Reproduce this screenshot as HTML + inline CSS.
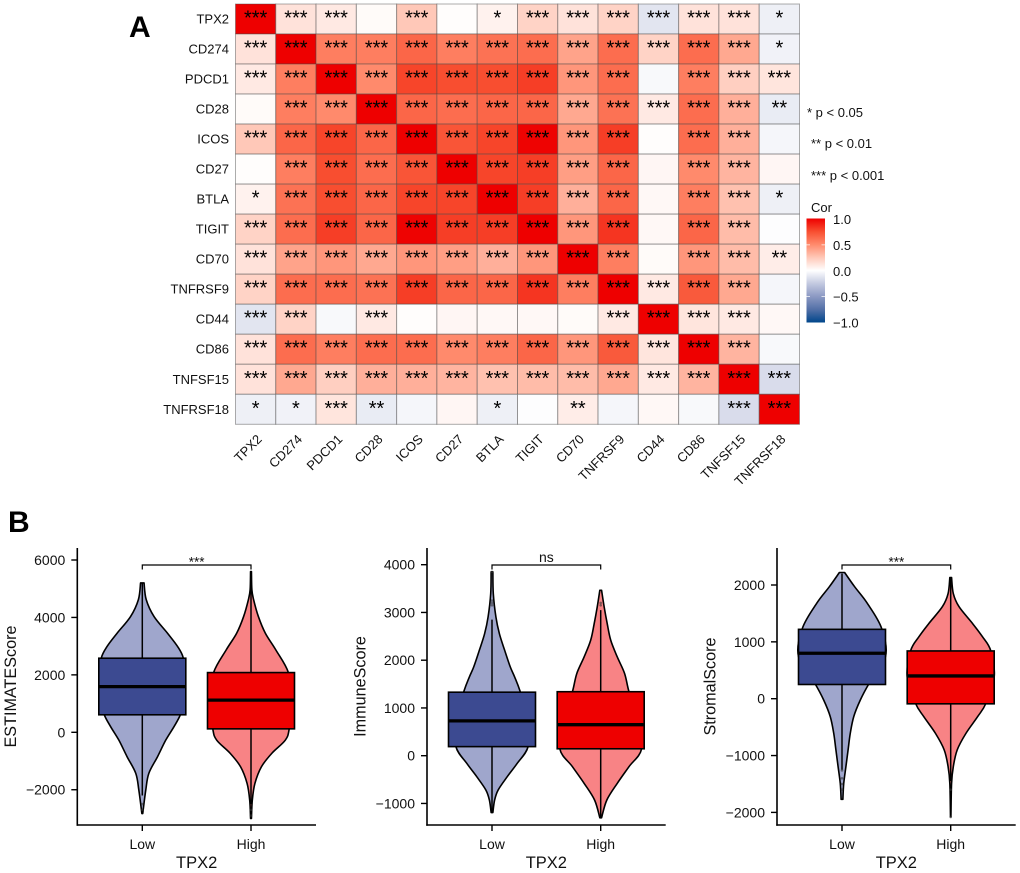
<!DOCTYPE html>
<html lang="en">
<head>
<meta charset="utf-8">
<title>TPX2 correlation heatmap and score violins</title>
<style>
html,body{margin:0;padding:0;background:#fff;}
svg{display:block;font-family:"Liberation Sans",Arial,sans-serif;filter:blur(0.35px);}
</style>
</head>
<body>
<svg id="figure" xmlns="http://www.w3.org/2000/svg" width="1020" height="873" viewBox="0 0 1020 873">
  <defs>
    <linearGradient id="cor-gradient" x1="0" y1="0" x2="0" y2="1">
      <stop offset="0" stop-color="#ee0000"/>
      <stop offset="0.125" stop-color="#f84e30"/>
      <stop offset="0.25" stop-color="#ff8a6c"/>
      <stop offset="0.375" stop-color="#ffc8b8"/>
      <stop offset="0.5" stop-color="#ffffff"/>
      <stop offset="0.625" stop-color="#c3c9e0"/>
      <stop offset="0.75" stop-color="#8c99c3"/>
      <stop offset="0.875" stop-color="#5370a7"/>
      <stop offset="1" stop-color="#00468b"/>
    </linearGradient>
  </defs>
  <rect width="1020" height="873" fill="#fff"/>
  <text x="129" y="37" font-size="30" font-weight="bold" fill="#000">A</text>
  <text x="8" y="532" font-size="30" font-weight="bold" fill="#000">B</text>
  <g id="heatmap"></g>
  <g font-size="13" fill="#111">
    <text x="807" y="117">* p &lt; 0.05</text>
    <text x="811" y="148">** p &lt; 0.01</text>
    <text x="811" y="180">*** p &lt; 0.001</text>
  </g>
  <g id="colorbar">
    <text x="811" y="212" font-size="13" fill="#111">Cor</text>
    <rect x="806.5" y="218.5" width="18.5" height="104" fill="url(#cor-gradient)"/>
  </g>
  <g id="violins"></g>
</svg>
<script>
// ---- Heatmap data ----
const genes = ["TPX2","CD274","PDCD1","CD28","ICOS","CD27","BTLA","TIGIT","CD70","TNFRSF9","CD44","CD86","TNFSF15","TNFRSF18"];
const corValues = [
  [1,.13,.1,.02,.25,.01,.06,.2,.13,.2,-.12,.13,.13,-.07],
  [.13,1,.55,.55,.65,.55,.6,.62,.4,.62,.2,.62,.38,-.06],
  [.1,.55,1,.5,.78,.75,.75,.8,.45,.62,-.03,.55,.22,.12],
  [.02,.55,.5,1,.65,.62,.65,.65,.38,.6,.1,.62,.35,-.09],
  [.25,.65,.78,.65,1,.72,.78,.99,.45,.8,.01,.62,.35,-.04],
  [.01,.55,.75,.62,.72,1,.78,.8,.42,.65,.04,.5,.33,.04],
  [.06,.6,.75,.65,.78,.78,1,.8,.35,.65,.03,.55,.28,-.07],
  [.2,.62,.8,.65,.99,.8,.8,1,.45,.83,.03,.65,.3,-.01],
  [.13,.4,.45,.38,.45,.42,.35,.45,1,.55,.02,.45,.3,.08],
  [.2,.62,.62,.6,.8,.65,.65,.83,.55,1,.1,.7,.38,-.04],
  [-.12,.2,-.03,.1,.01,.04,.03,.03,.02,.1,1,.12,.1,.03],
  [.13,.62,.55,.62,.62,.5,.55,.65,.45,.7,.12,1,.33,-.03],
  [.13,.38,.22,.35,.35,.33,.28,.3,.3,.38,.1,.33,1,-.16],
  [-.07,-.06,.12,-.09,-.04,.04,-.07,-.01,.08,-.04,.03,-.03,-.16,1]
];
const starCounts = [
  [3,3,3,0,3,0,1,3,3,3,3,3,3,1],
  [3,3,3,3,3,3,3,3,3,3,3,3,3,1],
  [3,3,3,3,3,3,3,3,3,3,0,3,3,3],
  [0,3,3,3,3,3,3,3,3,3,3,3,3,2],
  [3,3,3,3,3,3,3,3,3,3,0,3,3,0],
  [0,3,3,3,3,3,3,3,3,3,0,3,3,0],
  [1,3,3,3,3,3,3,3,3,3,0,3,3,1],
  [3,3,3,3,3,3,3,3,3,3,0,3,3,0],
  [3,3,3,3,3,3,3,3,3,3,0,3,3,2],
  [3,3,3,3,3,3,3,3,3,3,3,3,3,0],
  [3,3,0,3,0,0,0,0,0,3,3,3,3,0],
  [3,3,3,3,3,3,3,3,3,3,3,3,3,0],
  [3,3,3,3,3,3,3,3,3,3,3,3,3,3],
  [1,1,3,2,0,0,1,0,2,0,0,0,3,3]
];
const colorbarTicks = [1,0.5,0,-0.5,-1];

// ---- Violin data ----
const groupLabels = ["Low","High"];

const estimateTicks = [-2000,0,2000,4000,6000];
const estimateLowValues = [5200,4620,4030,3450,2990,2600,2000,1200,630,200,-270,-850,-1430,-2010,-2830];
const estimateLowDensity = [.04,.09,.27,.58,.81,.94,.98,.98,.88,.73,.54,.35,.15,.08,.01];
const estimateHighValues = [5600,4965,4620,4030,3450,2870,2080,1100,130,-270,-730,-1200,-1780,-2360,-3000];
const estimateHighDensity = [.01,.02,.06,.17,.33,.57,.86,.96,.88,.79,.48,.24,.09,.03,.01];
const estimateLowBox = [610,1590,2580];
const estimateHighBox = [120,1120,2080];
const estimateLowWhisker = [-2200,5200];
const estimateHighWhisker = [-2500,5600];
const estimateLowOutliers = [-2500,-2700];
const estimateHighOutliers = [-2700,-2900];

const immuneTicks = [-1000,0,1000,2000,3000,4000];
const immuneLowValues = [3850,3390,2905,2555,2210,1860,1650,1340,745,190,-160,-440,-720,-930,-1190];
const immuneLowDensity = [.02,.03,.09,.17,.29,.42,.52,.65,.85,.83,.58,.35,.14,.06,.02];
const immuneHighValues = [3465,3115,2765,2420,2070,1720,1340,745,145,-230,-580,-930,-1300];
const immuneHighDensity = [.02,.08,.15,.23,.38,.55,.65,.85,.94,.65,.38,.14,.02];
const immuneLowBox = [190,730,1330];
const immuneHighBox = [145,650,1340];
const immuneLowWhisker = [-1200,2850];
const immuneHighWhisker = [-1300,3050];
const immuneLowOutliers = [3150,3200,3250,3850];
const immuneHighOutliers = [3150,3200];

const stromalTicks = [-2000,-1000,0,1000,2000];
const stromalLowValues = [2220,1970,1680,1240,740,265,-25,-315,-610,-900,-1195,-1490,-1770];
const stromalLowDensity = [.06,.29,.58,.91,1,.62,.42,.27,.19,.14,.09,.04,.02];
const stromalHighValues = [2130,1850,1620,1325,1090,845,385,-80,-315,-610,-900,-1195,-1490,-2075];
const stromalHighDensity = [.02,.06,.19,.5,.73,.92,1,.81,.62,.35,.15,.06,.02,.005];
const stromalLowBox = [250,800,1220];
const stromalHighBox = [-90,400,840];
const stromalLowWhisker = [-1250,2200];
const stromalHighWhisker = [-1450,2120];
const stromalLowOutliers = [-1260,-1400,-1500,-1600];
const stromalHighOutliers = [-1600,-2080];

// ---- Helpers ----
const NS = "http://www.w3.org/2000/svg";
function mk(tag, attrs, parent, txt) {
  const el = document.createElementNS(NS, tag);
  for (const k in attrs) el.setAttribute(k, attrs[k]);
  if (txt !== undefined) el.textContent = txt;
  parent.appendChild(el);
  return el;
}
function linear(d0, d1, r0, r1) {
  return function (v) { return r0 + (v - d0) * (r1 - r0) / (d1 - d0); };
}
const posStops = [[255,255,255],[255,200,184],[255,138,108],[248,78,48],[238,0,0]];
const negStops = [[255,255,255],[195,201,224],[140,153,195],[83,112,167],[0,70,139]];
function corColor(v) {
  const stops = v >= 0 ? posStops : negStops;
  const t = Math.min(1, Math.abs(v)) * 4;
  const i = Math.min(3, Math.floor(t));
  const f = t - i;
  const c = [0,1,2].map(function (k) { return Math.round(stops[i][k] + (stops[i + 1][k] - stops[i][k]) * f); });
  return "rgb(" + c.join(",") + ")";
}
function fmt(v) {
  return String(v).replace("-", "\u2212");
}

// ---- Heatmap ----
(function drawHeatmap() {
  const root = document.getElementById("heatmap");
  const left = 235.5, right = 799.5, top = 4, bottom = 424.3;
  const cw = (right - left) / genes.length;
  const ch = (bottom - top) / genes.length;
  const xPos = function (i) { return left + i * cw; };
  const yPos = function (i) { return top + i * ch; };
  genes.forEach(function (rowGene, r) {
    const yLabel = mk("text", { x: left - 6.5, y: yPos(r) + ch / 2 + 4.5, "text-anchor": "end", "font-size": 13, fill: "#111" }, root, rowGene);
    
    
    genes.forEach(function (colGene, c) {
      const cell = mk("rect", { x: xPos(c), y: yPos(r), width: cw, height: ch, fill: corColor(corValues[r][c]), stroke: "rgba(70,70,70,0.45)", "stroke-width": 1 }, root);
      
      
    });
  });
  genes.forEach(function (rowGene, r) {
    genes.forEach(function (colGene, c) {
      const n = starCounts[r][c];
      if (n > 0) {
        const star = mk("text", { x: xPos(c) + cw / 2, y: yPos(r) + ch / 2 + 5.5, "text-anchor": "middle", "font-size": 20, fill: "#000" }, root, "*".repeat(n));
        
        
      }
    });
  });
  genes.forEach(function (gene, c) {
    const cx = xPos(c) + cw / 2;
    const xLabel = mk("text", { transform: "translate(" + (cx + 7) + ",440) rotate(-45)", "text-anchor": "end", "font-size": 13, fill: "#111" }, root, gene);
    
    
  });
})();

// ---- Colorbar ----
(function drawColorbar() {
  const root = document.getElementById("colorbar");
  const y = linear(1, -1, 219, 322.5);
  colorbarTicks.forEach(function (t) {
    if (Math.abs(t) !== 1) {
      const a = mk("line", { x1: 806.5, x2: 810, y1: y(t), y2: y(t), stroke: "#fff", "stroke-width": 0.7 }, root);
      
      
      const b = mk("line", { x1: 821.5, x2: 825, y1: y(t), y2: y(t), stroke: "#fff", "stroke-width": 0.7 }, root);
      
      
    }
    const label = mk("text", { x: 833, y: y(t) + 5, "font-size": 13, fill: "#111" }, root, fmt(t.toFixed(1)));
    
    
  });
})();

// ---- Violins ----
function smoothPath(pts) {
  let d = "M" + pts[0][0].toFixed(2) + "," + pts[0][1].toFixed(2);
  for (let i = 0; i < pts.length - 1; i++) {
    const p0 = pts[Math.max(0, i - 1)], p1 = pts[i], p2 = pts[i + 1], p3 = pts[Math.min(pts.length - 1, i + 2)];
    const c1 = [p1[0] + (p2[0] - p0[0]) / 6, p1[1] + (p2[1] - p0[1]) / 6];
    const c2 = [p2[0] - (p3[0] - p1[0]) / 6, p2[1] - (p3[1] - p1[1]) / 6];
    d += "C" + c1[0].toFixed(2) + "," + c1[1].toFixed(2) + " " + c2[0].toFixed(2) + "," + c2[1].toFixed(2) + " " + p2[0].toFixed(2) + "," + p2[1].toFixed(2);
  }
  return d;
}
function drawGroup(g, cx, yS, halfW, values, density, box, whisker, outliers, violinFill, boxFill) {
  const right = values.map(function (v, i) { return [cx + density[i] * halfW, yS(v)]; });
  const left = values.map(function (v, i) { return [cx - density[i] * halfW, yS(v)]; }).reverse();
  const body = mk("path", { d: smoothPath(right) + "L" + left[0][0].toFixed(2) + "," + left[0][1].toFixed(2) + smoothPath(left).replace(/^M[^C]*/, "") + "Z", fill: violinFill, stroke: "#000", "stroke-width": 1.6, "stroke-linejoin": "round" }, g);
  
  
  const whiskerLine = mk("line", { x1: cx, x2: cx, y1: yS(whisker[0]), y2: yS(whisker[1]), stroke: "#000", "stroke-width": 1.5 }, g);
  
  
  outliers.forEach(function (o) {
    const dot = mk("circle", { cx: cx, cy: yS(o), r: 1.3, fill: "#333", "fill-opacity": 0.6 }, g);
    
    
  });
  const boxRect = mk("rect", { x: cx - halfW, y: yS(box[2]), width: halfW * 2, height: yS(box[0]) - yS(box[2]), fill: boxFill, stroke: "#000", "stroke-width": 1.6 }, g);
  
  
  const median = mk("line", { x1: cx - halfW, x2: cx + halfW, y1: yS(box[1]), y2: yS(box[1]), stroke: "#000", "stroke-width": 3.3 }, g);
  
  
}
function drawPanel(p) {
  const root = document.getElementById("violins");
  const g = mk("g", {}, root);
  
  
  const yS = linear(p.refA, p.refB, p.refAy, p.refBy);
  const xS = function (i) { return p.axisX + 65 + i * 108.7; };
  const halfW = 43.5, axisBottom = 825, axisTop = 548;

  drawGroup(g, xS(0), yS, halfW, p.low.values, p.low.density, p.low.box, p.low.whisker, p.low.outliers, "#9fa6cc", "#3c4a91");
  drawGroup(g, xS(1), yS, halfW, p.high.values, p.high.density, p.high.box, p.high.whisker, p.high.outliers, "#f88385", "#ee0000");

  const yAxis = mk("line", { x1: p.axisX, x2: p.axisX, y1: axisTop, y2: axisBottom + 0.7, stroke: "#000", "stroke-width": 1.6 }, g);
  
  
  const xAxis = mk("line", { x1: p.axisX - 0.7, x2: p.axisX + 238.7, y1: axisBottom, y2: axisBottom, stroke: "#000", "stroke-width": 1.6 }, g);
  
  

  p.ticks.forEach(function (t) {
    const tick = mk("line", { x1: p.axisX - 6, x2: p.axisX, y1: yS(t), y2: yS(t), stroke: "#000", "stroke-width": 1.4 }, g);
    
    
    const label = mk("text", { x: p.axisX - 12, y: yS(t) + 5, "text-anchor": "end", "font-size": 14, fill: "#111" }, g, fmt(t));
    
    
  });
  groupLabels.forEach(function (name, i) {
    const tick = mk("line", { x1: xS(i), x2: xS(i), y1: axisBottom, y2: axisBottom + 6, stroke: "#000", "stroke-width": 1.4 }, g);
    
    
    const label = mk("text", { x: xS(i), y: 849, "text-anchor": "middle", "font-size": 14, fill: "#111" }, g, name);
    
    
  });
  const xTitle = mk("text", { x: (xS(0) + xS(1)) / 2, y: 868, "text-anchor": "middle", "font-size": 16.5, fill: "#111" }, g, "TPX2");
  
  
  const yTitle = mk("text", { transform: "translate(" + (p.axisX - 61.5) + ",686.5) rotate(-90)", "text-anchor": "middle", "font-size": 16.2, fill: "#111" }, g, p.title);
  
  

  const bracket = mk("path", { d: "M" + xS(0) + ",569.5V565H" + xS(1) + "V569.5", fill: "none", stroke: "#000", "stroke-width": 1.2 }, g);
  
  
  const isNs = p.sig === "ns";
  const sig = mk("text", { x: (xS(0) + xS(1)) / 2, y: isNs ? 562 : 566.5, "text-anchor": "middle", "font-size": isNs ? 14 : 13.5, fill: "#111" }, g, p.sig);
  
  
}

drawPanel({
  title: "ESTIMATEScore", sig: "***", axisX: 77.3, ticks: estimateTicks,
  refA: 0, refB: 6000, refAy: 732.3, refBy: 560,
  low: { values: estimateLowValues, density: estimateLowDensity, box: estimateLowBox, whisker: estimateLowWhisker, outliers: estimateLowOutliers },
  high: { values: estimateHighValues, density: estimateHighDensity, box: estimateHighBox, whisker: estimateHighWhisker, outliers: estimateHighOutliers }
});
drawPanel({
  title: "ImmuneScore", sig: "ns", axisX: 427, ticks: immuneTicks,
  refA: 0, refB: 4000, refAy: 755.7, refBy: 564.7,
  low: { values: immuneLowValues, density: immuneLowDensity, box: immuneLowBox, whisker: immuneLowWhisker, outliers: immuneLowOutliers },
  high: { values: immuneHighValues, density: immuneHighDensity, box: immuneHighBox, whisker: immuneHighWhisker, outliers: immuneHighOutliers }
});
drawPanel({
  title: "StromalScore", sig: "***", axisX: 777, ticks: stromalTicks,
  refA: 0, refB: 2000, refAy: 698.7, refBy: 585,
  low: { values: stromalLowValues, density: stromalLowDensity, box: stromalLowBox, whisker: stromalLowWhisker, outliers: stromalLowOutliers },
  high: { values: stromalHighValues, density: stromalHighDensity, box: stromalHighBox, whisker: stromalHighWhisker, outliers: stromalHighOutliers }
});
</script>
</body>
</html>
